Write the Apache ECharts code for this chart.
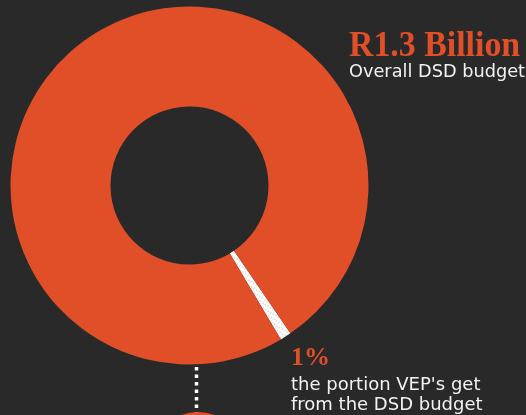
<!DOCTYPE html>
<html>
<head>
<meta charset="utf-8">
<script src="https://cdn.jsdelivr.net/npm/echarts@6/dist/echarts.min.js"></script>
<style>
  html, body { margin: 0; padding: 0; background: #292929; }
  #chart { width: 526px; height: 415px; }
</style>
</head>
<body>
<div id="chart"></div>
<script>
// Share of the Department of Social Development budget
const sliceNames = ['VEPs', 'Rest of DSD budget'];
const sliceShares = [1, 99];           // percent
const headline = 'R1.3 Billion';
const headlineSub = 'Overall DSD budget';
const shareLabel = '1%';
const shareLines = ["the portion VEP's get", 'from the DSD budget'];

const ORANGE = '#e04f28';
const BG = '#292929';

const chart = echarts.init(document.getElementById('chart'), null, { renderer: 'canvas' });

const pieData = sliceNames.map((name, i) => ({
  name,
  value: sliceShares[i],
  itemStyle: i === 0
    ? {
        color: '#ffffff',
        decal: {
          symbol: 'circle',
          symbolSize: 0.7,
          color: 'rgba(205,170,155,0.85)',
          dashArrayX: [3, 0],
          dashArrayY: [2, 2],
          rotation: 0.55
        }
      }
    : { color: ORANGE }
}));

chart.setOption({
  backgroundColor: BG,
  animation: false,
  series: [{
    type: 'pie',
    center: [189.5, 185.5],
    radius: [79, 179],
    startAngle: -55.7,
    clockwise: true,
    silent: true,
    label: { show: false },
    labelLine: { show: false },
    itemStyle: { borderWidth: 0 },
    data: pieData
  }],
  graphic: [
    {
      type: 'text', x: 349, y: 29, scaleX: 0.94,
      style: {
        text: headline, fill: ORANGE,
        font: 'bold 36px "Liberation Serif", "Times New Roman", serif'
      }
    },
    {
      type: 'text', x: 349, y: 63.5, scaleX: 0.985,
      style: {
        text: headlineSub, fill: '#f2f2f2',
        font: '18px "DejaVu Sans", sans-serif'
      }
    },
    {
      type: 'text', x: 291, y: 345.5,
      style: {
        text: shareLabel, fill: ORANGE,
        font: 'bold 26px "Liberation Serif", "Times New Roman", serif'
      }
    },
    {
      type: 'text', x: 291, y: 375.5,
      style: {
        text: shareLines.join('\n'), fill: '#f2f2f2', lineHeight: 20,
        font: '18px "DejaVu Sans", sans-serif'
      }
    },
    // connector down to the next figure
    {
      type: 'line',
      shape: { x1: 196.5, y1: 367, x2: 196.5, y2: 415 },
      style: { stroke: '#ffffff', lineWidth: 3.5, lineDash: [3.5, 4] }
    },
    {
      type: 'circle',
      shape: { cx: 198, cy: 460, r: 48 },
      style: { fill: ORANGE }
    }
  ]
});
</script>
</body>
</html>
